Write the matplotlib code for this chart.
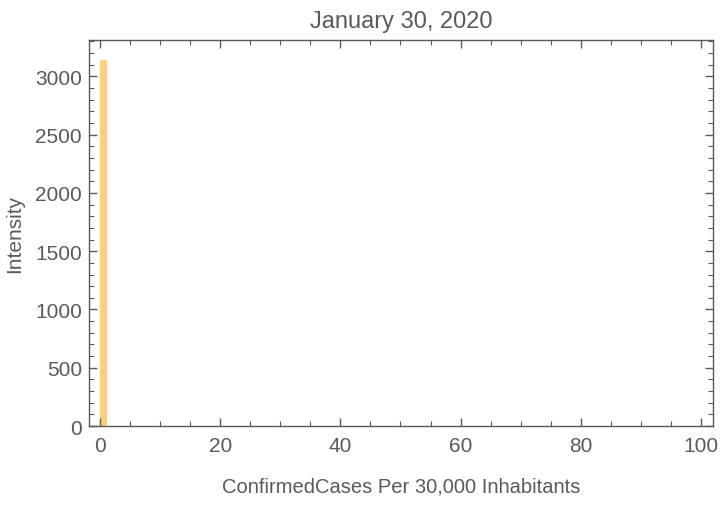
import matplotlib
matplotlib.use("Agg")
import matplotlib.pyplot as plt
from matplotlib.ticker import MultipleLocator

bin_edges = [0, 1]
counts = [3141]
title = "January 30, 2020"
xlabel = "ConfirmedCases Per 30,000 Inhabitants"
ylabel = "Intensity"

plt.rcParams['font.family'] = ['Liberation Sans', 'DejaVu Sans']
gray = '#5a5a5a'

fig = plt.figure(figsize=(7.2, 5.1), dpi=100)
ax = fig.add_axes([0.1236, 0.1627, 0.8667, 0.757])

ax.bar(bin_edges[:-1], counts, width=[bin_edges[i+1]-bin_edges[i] for i in range(len(counts))],
       align='edge', color='#FFCF7C', edgecolor='#FFCF7C', linewidth=0.8)

ax.set_xlim(-1.83, 102)
ax.set_ylim(0, 3313)
ax.xaxis.set_major_locator(MultipleLocator(20))
ax.xaxis.set_minor_locator(MultipleLocator(5))
ax.yaxis.set_major_locator(MultipleLocator(500))
ax.yaxis.set_minor_locator(MultipleLocator(100))

for s in ax.spines.values():
    s.set_color(gray)
    s.set_linewidth(1.0)
ax.tick_params(which='both', direction='in', top=True, right=True, colors=gray,
               labelsize=15, labelcolor=gray)
ax.tick_params(which='major', length=6, width=1.0)
ax.tick_params(which='minor', length=3.5, width=0.8)
ax.tick_params(axis='x', pad=7)
ax.tick_params(axis='y', pad=5)

ax.set_title(title, fontsize=17, color=gray, pad=9)
ax.set_xlabel(xlabel, fontsize=14.5, color=gray, labelpad=16)
ax.set_ylabel(ylabel, fontsize=15, color=gray, labelpad=8)

fig.savefig("out.png", dpi=100)
